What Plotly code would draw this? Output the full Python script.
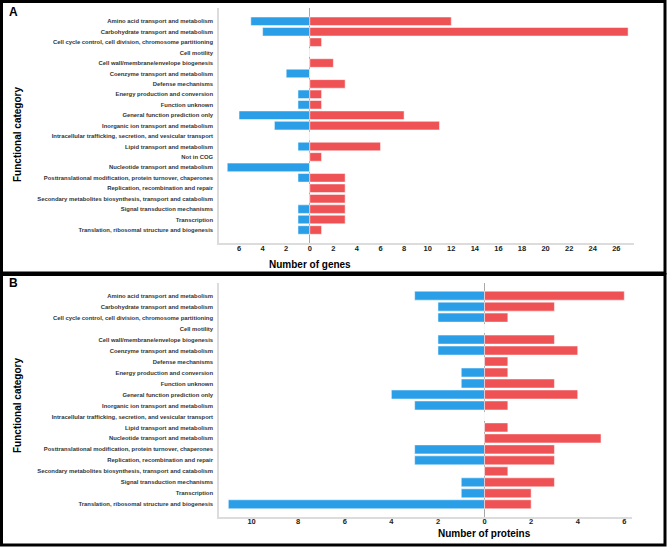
import plotly.graph_objects as go

cats_a = ["Amino acid transport and metabolism", "Carbohydrate transport and metabolism",
          "Cell cycle control, cell division, chromosome partitioning", "Cell motility",
          "Cell wall/membrane/envelope biogenesis", "Coenzyme transport and metabolism",
          "Defense mechanisms", "Energy production and conversion", "Function unknown",
          "General function prediction only", "Inorganic ion transport and metabolism",
          "Intracellular trafficking, secretion, and vesicular transport",
          "Lipid transport and metabolism", "Not in COG", "Nucleotide transport and metabolism",
          "Posttranslational modification, protein turnover, chaperones",
          "Replication, recombination and repair",
          "Secondary metabolites biosynthesis, transport and catabolism",
          "Signal transduction mechanisms", "Transcription",
          "Translation, ribosomal structure and biogenesis"]
down_a = [5, 4, 0, 0, 0, 2, 0, 1, 1, 6, 3, 0, 1, 0, 7, 1, 0, 0, 1, 1, 1]
up_a = [12, 27, 1, 0, 2, 0, 3, 1, 1, 8, 11, 0, 6, 1, 0, 3, 3, 3, 3, 3, 1]

cats_b = [c for c in cats_a if c != "Not in COG"]
down_b = [3, 2, 2, 0, 2, 2, 0, 1, 1, 4, 3, 0, 0, 0, 3, 3, 0, 1, 1, 11]
up_b = [6, 3, 1, 0, 3, 4, 1, 1, 3, 4, 1, 0, 1, 5, 3, 3, 1, 3, 2, 2]

ticks_a = list(range(-6, 27, 2))
ticks_b = list(range(-10, 7, 2))

BLUE = "#2A9FE8"
RED = "#EF5254"
W, H = 669, 548

def px(x):
    return x / W

def py(y):
    return 1 - y / H

fig = go.Figure()
fig.add_trace(go.Bar(y=cats_a, x=[-v for v in down_a], orientation="h", marker=dict(color=BLUE, line=dict(color="white", width=0.5)),
                     xaxis="x", yaxis="y", showlegend=False))
fig.add_trace(go.Bar(y=cats_a, x=up_a, orientation="h", marker=dict(color=RED, line=dict(color="white", width=0.5)),
                     xaxis="x", yaxis="y", showlegend=False))
fig.add_trace(go.Bar(y=cats_b, x=[-v for v in down_b], orientation="h", marker=dict(color=BLUE, line=dict(color="white", width=0.5)),
                     xaxis="x2", yaxis="y2", showlegend=False))
fig.add_trace(go.Bar(y=cats_b, x=up_b, orientation="h", marker=dict(color=RED, line=dict(color="white", width=0.5)),
                     xaxis="x2", yaxis="y2", showlegend=False))

font = "Liberation Sans, Arial, sans-serif"
xcommon = dict(showgrid=False, zeroline=True, zerolinecolor="#a8a8a8", zerolinewidth=1,
               showline=True, linecolor="#dcdcdc", linewidth=1.5, ticks="",
               tickfont=dict(family=font, size=7.5, color="#222"), ticklabelstandoff=-3)
ycommon = dict(showgrid=False, showline=True, linecolor="#dcdcdc", linewidth=1.5, ticks="",
               tickfont=dict(family=font, size=5.9, color="#333"), ticklabelstandoff=3)

fig.update_layout(
    width=W, height=H, margin=dict(l=0, r=0, t=0, b=0),
    paper_bgcolor="white", plot_bgcolor="white",
    barmode="relative", bargap=0.18,
    xaxis=dict(domain=[px(219), px(634)], range=[-7.7, 27.5], anchor="y",
               tickvals=ticks_a, ticktext=["<b>%d</b>" % abs(t) for t in ticks_a], **xcommon),
    yaxis=dict(domain=[py(243.3), py(8)], anchor="x", type="category",
               tickvals=cats_a, ticktext=["<b>%s</b>" % c for c in cats_a],
               range=[20 + 1.275, -1.275], **ycommon),
    xaxis2=dict(domain=[px(219), px(632)], range=[-11.4, 6.33], anchor="y2",
                tickvals=ticks_b, ticktext=["<b>%d</b>" % abs(t) for t in ticks_b], **xcommon),
    yaxis2=dict(domain=[py(516.7), py(282.7)], anchor="x2", type="category",
                tickvals=cats_b, ticktext=["<b>%s</b>" % c for c in cats_b],
                range=[19 + 1.13, -1.18], **ycommon),
    font=dict(family=font),
)

fig.update_layout(shapes=[
    dict(type="rect", xref="paper", yref="paper", x0=px(1.5), x1=px(665), y0=py(273), y1=py(1.5),
         line=dict(color="black", width=3)),
    dict(type="rect", xref="paper", yref="paper", x0=px(1.5), x1=px(665), y0=py(545), y1=py(274.5),
         line=dict(color="black", width=3)),
])

def a(text, x, y, size, xref="paper", angle=0, xanchor="center"):
    return dict(text=text, x=x, y=y, xref=xref, yref="paper", xanchor=xanchor, yanchor="middle",
                textangle=angle, showarrow=False, font=dict(size=size, color="black", family=font))

ann = [
    a("<b>A</b>", px(7), py(12), 12, xanchor="left"),
    a("<b>B</b>", px(7), py(283), 12, xanchor="left"),
    a("<b>Functional category</b>", px(17), py(135), 10, angle=-90),
    a("<b>Functional category</b>", px(17), py(406), 10, angle=-90),
    a("<b>Number of genes</b>", 0, py(265), 10, xref="x"),
    a("<b>Number of proteins</b>", 0, py(533), 10, xref="x2"),
]
fig.update_layout(annotations=ann)

fig.write_html("out.html", config={"displayModeBar": False},
               post_script="document.body.style.margin='0';document.body.style.overflow='hidden';")
